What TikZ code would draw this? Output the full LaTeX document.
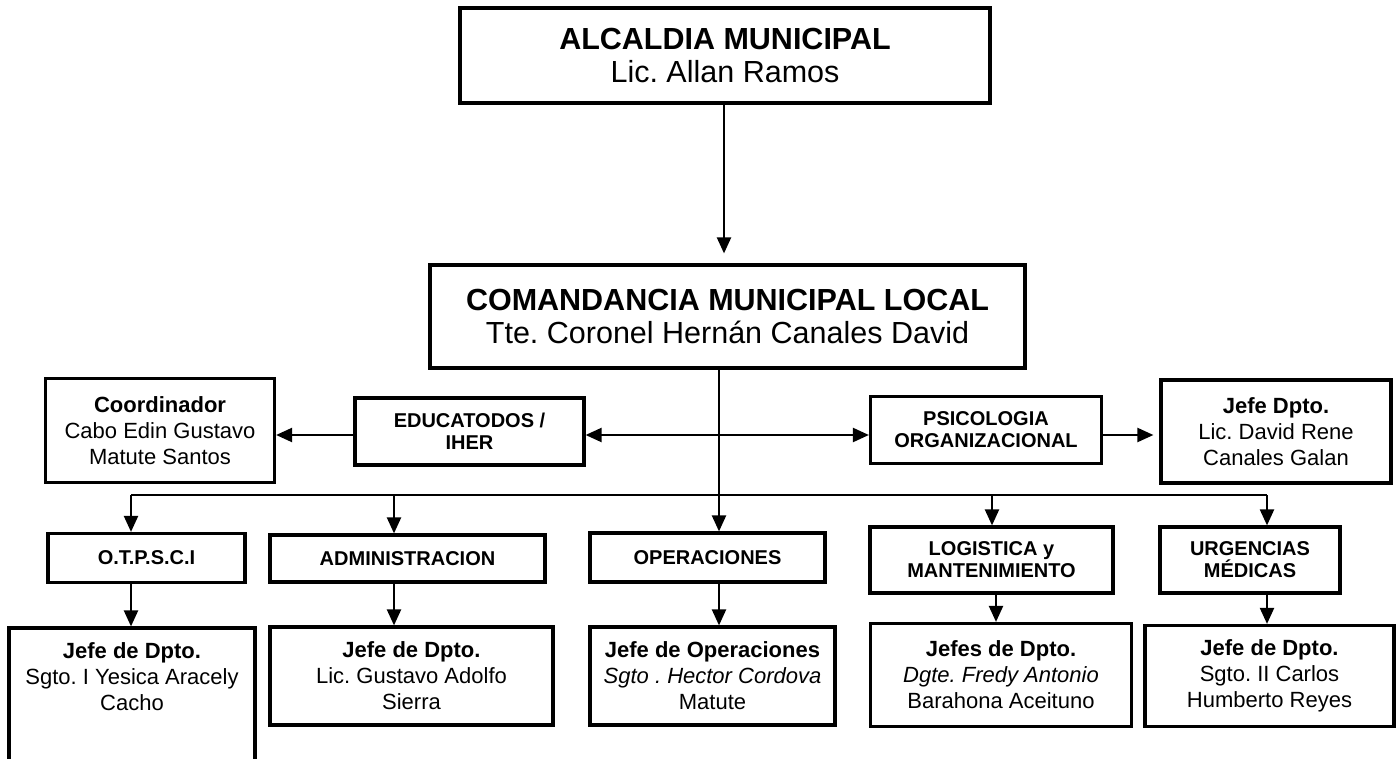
\documentclass[tikz,border=0pt]{standalone}
\usepackage{fontspec}
\setmainfont{Liberation Sans}
\usetikzlibrary{arrows.meta}
\frenchspacing
\begin{document}
\begin{tikzpicture}[x=1pt,y=-1pt,
  box/.style={draw, line width=3.2pt, inner sep=0pt, align=center},
  conn/.style={line width=2.2pt, -{Triangle[length=16pt,width=14pt]}},
  dconn/.style={line width=2.2pt, {Triangle[length=16pt,width=14pt]}-{Triangle[length=16pt,width=14pt]}},
  big/.style={font=\fontsize{30.5}{33}\selectfont},
  med/.style={font=\fontsize{22}{26}\selectfont},
  sml/.style={font=\fontsize{20}{22}\selectfont\bfseries},
  txt/.style={inner sep=0pt, align=center, anchor=north},
]
\fill[white] (0,0) rectangle (1397,759);
\useasboundingbox (0,0) rectangle (1397,759);

% top levels
\node[box, big, minimum width=530, minimum height=95] (alc) at (725,55.5)
  {\textbf{ALCALDIA MUNICIPAL}\\Lic. Allan Ramos};
\node[box, big, minimum width=595, minimum height=103] (com) at (727.5,316.5)
  {\textbf{COMANDANCIA MUNICIPAL LOCAL}\\Tte. Coronel Hernán Canales David};

% staff row
\node[box, med, minimum width=229, minimum height=104] (coord) at (160,430.5)
  {\textbf{Coordinador}\\Cabo Edin Gustavo\\Matute Santos};
\node[box, sml, minimum width=229, minimum height=67] (edu) at (469.5,431.5)
  {EDUCATODOS /\\IHER};
\node[box, sml, minimum width=231, minimum height=67] (psi) at (986,430)
  {PSICOLOGIA\\ORGANIZACIONAL};
\node[box, med, minimum width=230, minimum height=103] (jefe) at (1276,431.5)
  {\textbf{Jefe Dpto.}\\Lic. David Rene\\Canales Galan};

% departments
\node[box, sml, minimum width=197, minimum height=49] (ot) at (146.5,558) {O.T.P.S.C.I};
\node[box, sml, minimum width=275, minimum height=47] (adm) at (407.5,558.5) {ADMINISTRACION};
\node[box, sml, minimum width=235, minimum height=49] (oper) at (707.5,557.5) {OPERACIONES};
\node[box, sml, minimum width=243, minimum height=66] (log) at (991.5,560) {LOGISTICA y\\MANTENIMIENTO};
\node[box, sml, minimum width=180, minimum height=66] (urg) at (1250,560) {URGENCIAS\\MÉDICAS};

% heads
\node[box, minimum width=246, minimum height=142] (b1) at (132,699) {};
\node[txt, med] at ([yshift=-16pt]b1.north) {\textbf{Jefe de Dpto.}\\Sgto. I Yesica Aracely\\Cacho};
\node[box, med, minimum width=283, minimum height=98] (b2) at (411.5,676)
  {\textbf{Jefe de Dpto.}\\Lic. Gustavo Adolfo\\Sierra};
\node[box, med, minimum width=245, minimum height=98] (b3) at (712.5,676)
  {\textbf{Jefe de Operaciones}\\\textit{Sgto . Hector Cordova}\\Matute};
\node[box, med, minimum width=261, minimum height=103] (b4) at (1001,675)
  {\textbf{Jefes de Dpto.}\\\textit{Dgte. Fredy Antonio}\\Barahona Aceituno};
\node[box, med, minimum width=249, minimum height=101] (b5) at (1269.5,676)
  {\textbf{Jefe de Dpto.}\\Sgto. II Carlos\\Humberto Reyes};

% connector x positions
\coordinate (xa) at (724,0);
\coordinate (xv) at (719,0);
\coordinate (x1) at (131,0);
\coordinate (x2) at (394,0);
\coordinate (x4) at (992,0);
\coordinate (x4b) at (996,0);
\coordinate (x5) at (1267,0);
\coordinate (hy) at (0,435);
\coordinate (by) at (0,495);

\draw[conn, shorten >=10pt] (alc.south -| xa) -- (com.north -| xa);
\draw[conn] (com.south -| xv) -- (oper.north -| xv);

\draw[conn] (edu.west |- hy) -- (coord.east |- hy);
\draw[dconn] (edu.east |- hy) -- (psi.west |- hy);
\draw[conn] (psi.east |- hy) -- ([xshift=-6pt]jefe.west |- hy);

\draw[line width=2.2pt] (x1 |- by) -- (x5 |- by);
\draw[conn] (x1 |- by) -- (ot.north -| x1);
\draw[conn] (x2 |- by) -- (adm.north -| x2);
\draw[conn] (x4 |- by) -- (log.north -| x4);
\draw[conn] (x5 |- by) -- (urg.north -| x5);

\draw[conn] (ot.south -| x1) -- (b1.north -| x1);
\draw[conn] (adm.south -| x2) -- (b2.north -| x2);
\draw[conn] (oper.south -| xv) -- (b3.north -| xv);
\draw[conn] (log.south -| x4b) -- (b4.north -| x4b);
\draw[conn] (urg.south -| x5) -- (b5.north -| x5);
\end{tikzpicture}
\end{document}
